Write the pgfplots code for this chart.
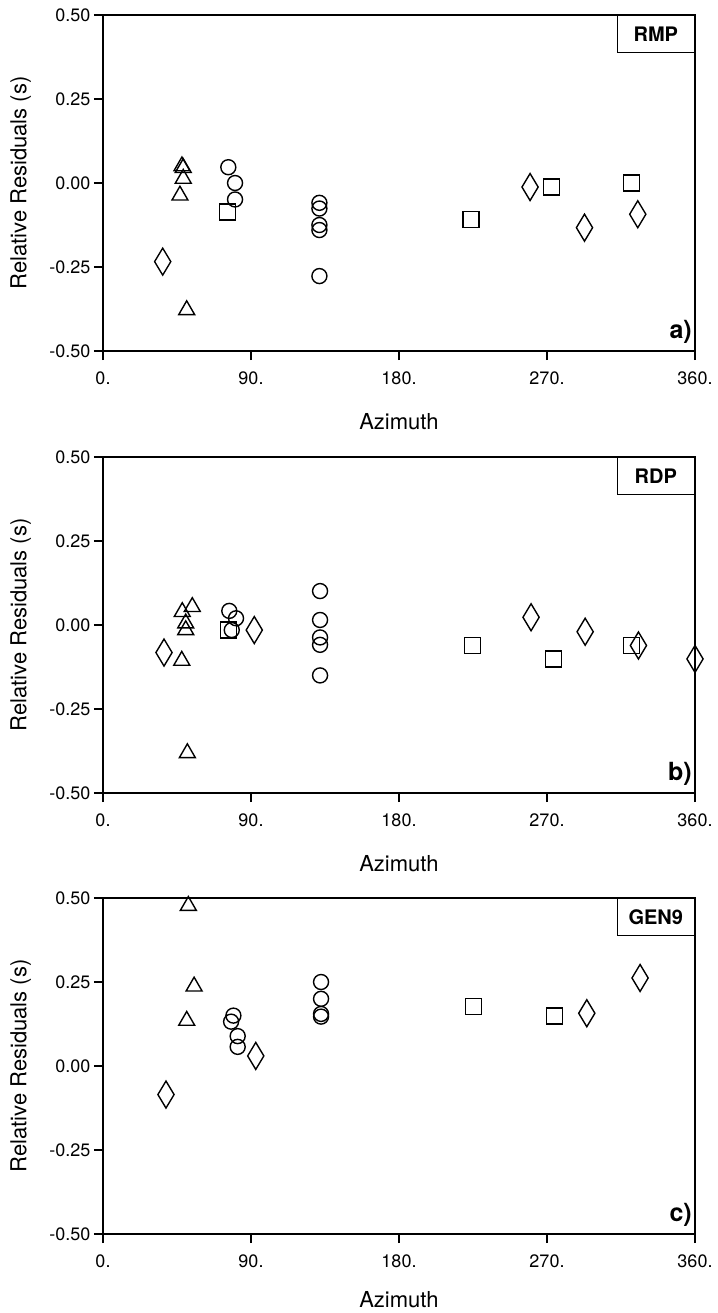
\documentclass[border=0pt]{standalone}
\usepackage{fontspec}
\setmainfont{TeX Gyre Heros}
\usepackage{pgfplots}
\pgfplotsset{compat=1.18}

\pgfplotsset{
  panel/.style={
    width=592bp, height=336bp, scale only axis,
    xmin=0, xmax=360, ymin=-0.5, ymax=0.5,
    axis x line*=bottom, axis y line*=left,
    axis line style={line width=1.8bp, black, -},
    xtick={0,90,180,270,360}, xticklabels={0.,90.,180.,270.,360.},
    ytick={-0.5,-0.25,0,0.25,0.5}, yticklabels={-0.50,-0.25,0.00,0.25,0.50},
    tick align=outside, major tick length=9bp,
    tick style={line width=1.5bp, black},
    ticklabel style={font=\fontsize{18bp}{20bp}\selectfont},
    xticklabel style={yshift=-8bp},
    xlabel={Azimuth}, ylabel={Relative Residuals (s)},
    label style={font=\fontsize{22bp}{24bp}\selectfont},
    xlabel style={at={(axis description cs:0.5,-0.21)}, anchor=center},
    ylabel style={at={(axis description cs:-0.139,0.5)}, anchor=center},
    clip=false,
  },
  tri/.style={only marks, mark=triangle, mark size=9.2bp, black, line width=1.4bp},
  circ/.style={only marks, mark=o, mark size=7.5bp, black, line width=1.4bp},
  sq/.style={only marks, mark=square, mark size=8bp, black, line width=1.4bp},
  dia/.style={only marks, mark=diamond, mark size=13.5bp, black, line width=1.4bp, every mark/.append style={xscale=0.8}},
}

\newcommand{\panelframe}[2]{%
  \draw[line width=1.2bp] (rel axis cs:0,1) -- (rel axis cs:1,1) -- (rel axis cs:1,0);
  \node[draw, line width=1.4bp, anchor=north east, minimum width=77bp, minimum height=37bp, inner sep=0pt,
        font=\bfseries\fontsize{20bp}{22bp}\selectfont] at (rel axis cs:1,1) {#1};
  \node[anchor=south east, inner sep=1bp, xshift=-2bp, yshift=6bp,
        font=\bfseries\fontsize{25bp}{27bp}\selectfont] at (rel axis cs:1,0) {#2};
}

\begin{document}
\begin{tikzpicture}
\path[use as bounding box] (0,0) rectangle (718bp,-1313bp);

% ---------- a) RMP ----------
\begin{axis}[panel, at={(103bp,-351bp)}, anchor=south west]
\addplot[tri] coordinates {(48.0,0.050) (48.8,0.045) (48.8,0.013) (46.8,-0.037) (50.9,-0.378)};
\addplot[dia] coordinates {(36.3,-0.234) (259.7,-0.012) (292.8,-0.133) (325.2,-0.093)};
\addplot[circ] coordinates {(76.2,0.047) (80.3,0.000) (80.3,-0.049) (131.6,-0.059) (131.6,-0.076) (131.6,-0.125) (131.6,-0.140) (131.6,-0.277)};
\addplot[sq] coordinates {(75.8,-0.086) (223.7,-0.109) (272.9,-0.012) (321.2,0.000)};
\panelframe{RMP}{a)}
\end{axis}

% ---------- b) RDP ----------
\begin{axis}[panel, at={(103bp,-793bp)}, anchor=south west]
\addplot[tri] coordinates {(48.2,0.039) (54.3,0.054) (50.3,0.005) (50.3,-0.015) (47.9,-0.106) (51.3,-0.381)};
\addplot[dia] coordinates {(37.1,-0.082) (92.0,-0.015) (260.3,0.023) (293.2,-0.020) (325.6,-0.061) (360.0,-0.101)};
\addplot[circ] coordinates {(76.8,0.042) (80.9,0.020) (78.3,-0.015) (132.0,0.101) (132.0,0.015) (132.0,-0.037) (132.0,-0.059) (132.0,-0.150)};
\addplot[sq] coordinates {(76.2,-0.015) (224.6,-0.061) (273.9,-0.101) (321.2,-0.061)};
\panelframe{RDP}{b)}
\end{axis}

% ---------- c) GEN9 ----------
\begin{axis}[panel, at={(103bp,-1234bp)}, anchor=south west,
  xlabel style={at={(axis description cs:0.5,-0.196)}, anchor=center, inner sep=0pt}]
\addplot[tri] coordinates {(51.9,0.477) (55.4,0.237) (50.9,0.135)};
\addplot[dia] coordinates {(38.3,-0.085) (92.9,0.030) (294.2,0.157) (326.6,0.262)};
\addplot[circ] coordinates {(79.3,0.150) (77.9,0.132) (81.9,0.089) (81.9,0.057) (132.6,0.250) (132.6,0.200) (132.6,0.155) (132.6,0.147)};
\addplot[sq] coordinates {(225.2,0.177) (274.5,0.149)};
\panelframe{GEN9}{c)}
\end{axis}
\end{tikzpicture}
\end{document}
